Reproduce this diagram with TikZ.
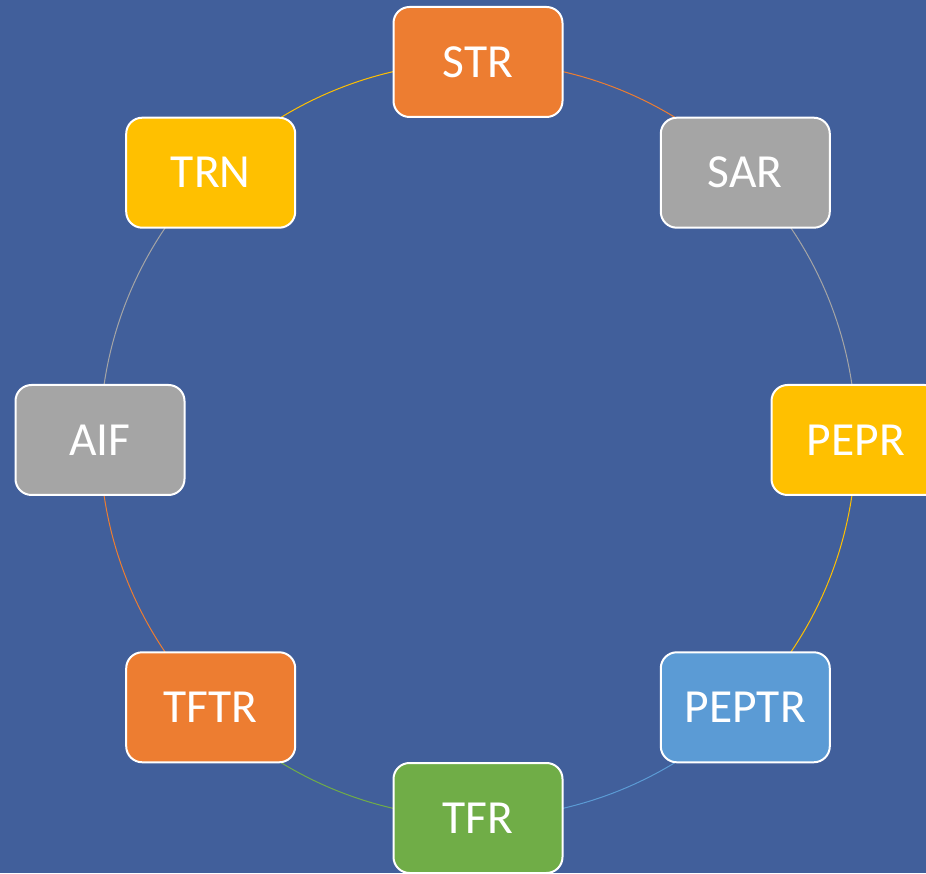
\documentclass[tikz,border=0pt]{standalone}
\usepackage{fontspec}
\setmainfont{Carlito}
\definecolor{bgblue}{RGB}{65,95,155}
\definecolor{ringorange}{RGB}{237,125,49}
\definecolor{ringgray}{RGB}{165,165,165}
\definecolor{ringyellow}{RGB}{255,192,0}
\definecolor{ringblue}{RGB}{91,155,213}
\definecolor{ringgreen}{RGB}{112,173,71}
\tikzset{
  stagebox/.style={draw=white, line width=2pt, rounded corners=16pt,
    minimum width=169pt, minimum height=110pt, text=white,
    font=\fontsize{47.5}{54}\selectfont},
  ringarc/.style={line width=1pt}
}
\begin{document}
\begin{tikzpicture}[x=1pt,y=1pt]
	\useasboundingbox (0,0) rectangle (926,873);
	\clip (0,0) rectangle (926,873);
	\fill[bgblue] (0,0) rectangle (926,873);
	\coordinate (c) at (478,433);
	% places on the ring
	\foreach \n/\a in {str/90,sar/45,pepr/0,peptr/-45,tfr/-90,tftr/-135,aif/180,trn/135}
		\coordinate (p-\n) at ([shift={(c)}]\a:378);
	% ring pieces, clockwise
	\foreach \n/\a/\col in {str/90/ringorange,sar/45/ringgray,pepr/0/ringyellow,peptr/-45/ringblue,tfr/-90/ringgreen,tftr/-135/ringorange,aif/180/ringgray,trn/135/ringyellow}
		\draw[ringarc, \col] (p-\n) arc[start angle=\a, delta angle=-45, radius=378];
	% boxes
	\foreach \n/\t/\col in {str/STR/ringorange,sar/SAR/ringgray,pepr/PEPR/ringyellow,peptr/PEPTR/ringblue,tfr/TFR/ringgreen,tftr/TFTR/ringorange,aif/AIF/ringgray,trn/TRN/ringyellow}
		\node[stagebox, fill=\col] (\n) at (p-\n) {\t};
\end{tikzpicture}
\end{document}
